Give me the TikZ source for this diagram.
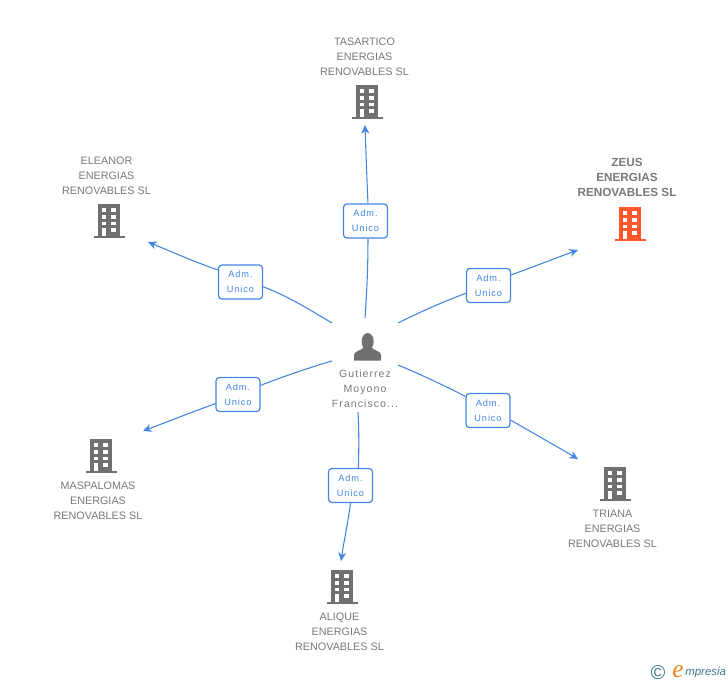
\documentclass[tikz,border=0pt]{standalone}
\usepackage{fontspec}
\setmainfont{Liberation Sans}
\newfontfamily\spacedfont[LetterSpace=10]{Liberation Sans}
\newfontfamily\logofont{Liberation Serif}
\usetikzlibrary{arrows.meta}
\definecolor{iconGray}{RGB}{112,112,112}
\definecolor{textGray}{RGB}{120,120,120}
\definecolor{zeusRed}{RGB}{255,87,45}
\definecolor{linkBlue}{RGB}{66,133,226}
\definecolor{logoTeal}{RGB}{60,120,145}
\definecolor{logoOrange}{RGB}{240,130,30}
\tikzset{
  pics/building/.style={code={
    \begin{scope}[yscale=-1]
    \fill [#1] (-11,-17) rectangle (11,15);
    \fill [#1] (-15.5,15) rectangle (15.5,17);
    \foreach \wy in {-13,-6,0.5} {
      \fill [white] (-7,\wy) rectangle (-2.7,\wy+3.7);
      \fill [white] (2.3,\wy) rectangle (6.6,\wy+3.7);
    }
    \fill [white] (-7,7) rectangle (-2.7,15);
    \fill [white] (2.3,6.5) rectangle (6.6,10.5);
    \end{scope}
  }},
  company/.style={inner sep=0.75pt,align=center,text=textGray,font=\fontsize{8.1pt}{11.25pt}\selectfont},
  owner/.style={inner sep=0.75pt,align=center,text=textGray,font=\fontsize{7.9pt}{11.25pt}\spacedfont},
  role/.style={draw=linkBlue,line width=0.9pt,rounded corners=2.5pt,fill=white,text=linkBlue,
    minimum width=33pt,minimum height=25.5pt,inner sep=0pt,align=center,
    font=\fontsize{6.9pt}{11.25pt}\spacedfont},
  link/.style={draw=linkBlue,line width=0.8pt},
  linkto/.style={link,-{Stealth[length=6.5pt,width=6pt]}}
}
\begin{document}
\begin{tikzpicture}[x=0.75pt,y=0.75pt,yscale=-1,xscale=1]
\useasboundingbox (0,0) rectangle (728,685);

% Free ends of the links
\coordinate (tasarticoIn) at (365,318);
\coordinate (tasarticoEnd) at (365,125);
\coordinate (zeusIn) at (398,323);
\coordinate (zeusEnd) at (578,250);
\coordinate (eleanorIn) at (332,323);
\coordinate (eleanorEnd) at (148,242);
\coordinate (maspalomasIn) at (332,361);
\coordinate (maspalomasEnd) at (143,431);
\coordinate (aliqueIn) at (358,412);
\coordinate (aliqueEnd) at (341,561);
\coordinate (trianaIn) at (398,365);
\coordinate (trianaEnd) at (578,459);

% Role boxes
\node [role] (roleTasartico) at (365.5,221) {Adm.\\Unico};
\node [role] (roleZeus) at (488.5,285.5) {Adm.\\Unico};
\node [role] (roleEleanor) at (240.5,282) {Adm.\\Unico};
\node [role] (roleMaspalomas) at (238,394.5) {Adm.\\Unico};
\node [role] (roleAlique) at (350.5,485.5) {Adm.\\Unico};
\node [role] (roleTriana) at (488,410.5) {Adm.\\Unico};

% Links
\draw [link] (tasarticoIn) .. controls (367,290) and (368,265) .. (roleTasartico.-82);
\draw [linkto] (roleTasartico.82) .. controls (367,180) and (366,155) .. (tasarticoEnd);
\draw [link] (zeusIn) .. controls (420,312) and (445,301) .. (roleZeus.199);
\draw [linkto] (roleZeus.25) .. controls (533,267) and (556,258) .. (zeusEnd);
\draw [link] (eleanorIn) .. controls (310,310) and (288,296) .. (roleEleanor.-12);
\draw [linkto] (roleEleanor.152) .. controls (195,262) and (172,252) .. (eleanorEnd);
\draw [link] (maspalomasIn) .. controls (308,368) and (285,376) .. (roleMaspalomas.22);
\draw [linkto] (roleMaspalomas.202) .. controls (192,412) and (167,422) .. (maspalomasEnd);
\draw [link] (aliqueIn) .. controls (359,430) and (359,450) .. (roleAlique.66);
\draw [linkto] (roleAlique.south) .. controls (348,522) and (344,541) .. (aliqueEnd);
\draw [link] (trianaIn) .. controls (420,374) and (445,386) .. (roleTriana.148);
\draw [linkto] (roleTriana.-23) .. controls (533,433) and (556,446) .. (trianaEnd);

% Buildings
\pic at (367,102) {building=iconGray};
\pic at (630,224) {building=zeusRed};
\pic at (109,221) {building=iconGray};
\pic at (101,456) {building=iconGray};
\pic at (342,587) {building=iconGray};
\pic at (615,484) {building=iconGray};

% Person
\fill [iconGray] (367.7,341.5) ellipse [x radius=6,y radius=8.5];
\fill [iconGray] (354,360.5) -- (354,355) .. controls (354,351) and (361,351) .. (364,347) -- (371,347) .. controls (374,351) and (381,351) .. (381,355) -- (381,360.5) -- cycle;

% Text Node
\node [company] (tasartico) at (364.5,56.7) {TASARTICO\\ENERGIAS\\RENOVABLES SL};
\node [company,font=\fontsize{8.8pt}{11.25pt}\selectfont\bfseries] (zeus) at (627,177.7) {ZEUS\\ENERGIAS\\RENOVABLES SL};
\node [company] (eleanor) at (106.5,175.7) {ELEANOR\\ENERGIAS\\RENOVABLES SL};
\node [company] (maspalomas) at (98,500.7) {MASPALOMAS\\ENERGIAS\\RENOVABLES SL};
\node [company] (alique) at (339.5,631.7) {ALIQUE\\ENERGIAS\\RENOVABLES SL};
\node [company] (triana) at (612.5,528.7) {TRIANA\\ENERGIAS\\RENOVABLES SL};
\node [owner] (gutierrez) at (365,388.7) {Gutierrez\\Moyono\\Francisco...};

% Logo
\node [inner sep=0pt,text=logoTeal,font=\fontsize{15pt}{15pt}\selectfont] (copyrightMark) at (658,673) {\textcopyright};
\node [anchor=west,inner sep=0pt,text=logoOrange,font=\fontsize{19pt}{19pt}\logofont\itshape] (logoE) at (672,671.5) {e};
\node [anchor=west,inner sep=0pt,text=logoTeal,font=\fontsize{8.6pt}{8.6pt}\selectfont\itshape] (logoName) at (685,673) {mpresia};

\end{tikzpicture}
\end{document}
